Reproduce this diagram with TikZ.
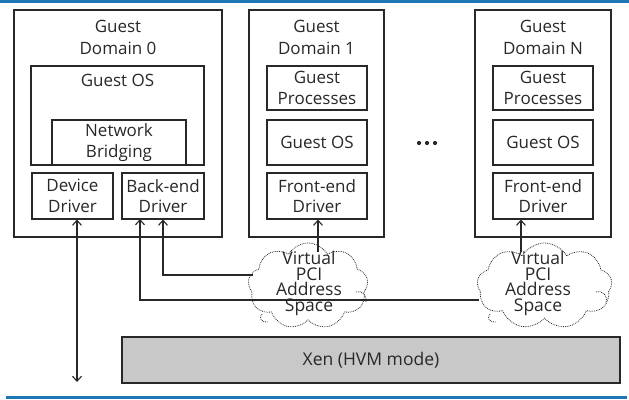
\documentclass[tikz,border=0pt]{standalone}
\usepackage{fontspec}
\setmainfont{Open Sans}
\usetikzlibrary{shapes.symbols,arrows.meta,calc}
\definecolor{bluebar}{RGB}{30,118,182}
\definecolor{linegray}{RGB}{40,40,40}
\definecolor{xengray}{RGB}{200,200,200}
\begin{document}
\begin{tikzpicture}[x=1pt,y=-1pt,
 box/.style={draw=linegray,line width=1.1pt,inner sep=0pt,align=center,text=linegray,font=\fontsize{17}{20.5}\selectfont},
 lbl/.style={inner sep=0pt,align=center,text=linegray,font=\fontsize{17}{21.5}\selectfont},
 cloudlbl/.style={inner sep=0pt,align=center,text=linegray,font=\fontsize{17.5}{15.7}\selectfont},
 cloudbox/.style={cloud,cloud puffs=9,cloud puff arc=120,cloud ignores aspect,draw=linegray,densely dotted,line width=0.8pt,inner sep=0pt},
 arr/.style={draw=linegray,line width=1.1pt,-{Straight Barb[length=5pt,width=9pt]}},
 dbl/.style={draw=linegray,line width=1.1pt,{Straight Barb[length=5pt,width=9pt]}-{Straight Barb[length=5pt,width=9pt]}},
 curl/.style={draw=linegray,densely dotted,line width=0.8pt},
]
\useasboundingbox (0,0) rectangle (629,399);
% blue bars
\fill[bluebar] (0,0) rectangle (629,3);
\fill[bluebar] (6,395.5) rectangle (627,399);

% Domain 0
\node[box,minimum width=208pt,minimum height=227pt] (d0) at (118,123.5) {};
\node[lbl] (d0t) at (118,37.5) {Guest\\Domain 0};
\node[box,minimum width=173pt,minimum height=99pt] (os0) at (117.5,115.5) {};
\node[lbl] (os0t) at (117.5,80) {Guest OS};
\node[box,minimum width=134pt,minimum height=45pt] (nb) at (119,142.5) {Network\\Bridging};
\node[box,minimum width=81pt,minimum height=46pt] (dd) at (72.5,196) {Device\\Driver};
\node[box,minimum width=82pt,minimum height=46pt] (be) at (163,196) {Back-end\\Driver};

% Domain 1
\node[box,minimum width=135pt,minimum height=227pt] (d1) at (316.5,123.5) {};
\node[lbl] (d1t) at (316.5,37.5) {Guest\\Domain 1};
\node[box,minimum width=100pt,minimum height=44pt] (gp1) at (317,88) {Guest\\Processes};
\node[box,minimum width=100pt,minimum height=45pt] (go1) at (317,142.5) {Guest OS};
\node[box,minimum width=100pt,minimum height=46pt] (fe1) at (317,196) {Front-end\\Driver};

% dots
\fill[linegray] (419,143) circle (2.1) (427,143) circle (2.1) (435,143) circle (2.1);

% Domain N
\node[box,minimum width=136pt,minimum height=227pt] (dN) at (543,123.5) {};
\node[lbl] (dNt) at (543,37.5) {Guest\\Domain N};
\node[box,minimum width=100pt,minimum height=44pt] (gpN) at (543,88) {Guest\\Processes};
\node[box,minimum width=100pt,minimum height=45pt] (goN) at (543,142.5) {Guest OS};
\node[box,minimum width=100pt,minimum height=46pt] (feN) at (543,196) {Front-end\\Driver};

% Xen
\node[box,fill=xengray,minimum width=498pt,minimum height=46pt,font=\fontsize{17.5}{20}\selectfont] (xen) at (371,360) {Xen (HVM mode)};

% clouds
\node[cloudbox,minimum width=120pt,minimum height=86pt] (c1) at (308,286) {};
\node[cloudbox,minimum width=135pt,minimum height=86pt] (cN) at (544.5,286) {};
\draw[curl] (356,292) .. controls (362,290) and (367,295) .. (366,302);
\draw[curl] (262,314) .. controls (258,318) and (262,323) .. (268,322);
\draw[curl] (596,292) .. controls (603,290) and (608,296) .. (606,303);
\draw[curl] (490,314) .. controls (486,318) and (490,323) .. (496,322);

% connectors
\coordinate (ddend) at (77,382);
\coordinate (c1top) at (318,252);
\coordinate (cNtop) at (521,252);
\coordinate (l1) at (253,275);
\coordinate (l2) at (479,300);
\coordinate (beA) at (140,219);
\draw[dbl] (dd.south -| ddend) -- (ddend);
\draw[arr] (l1) -| (be.south);
\draw[arr] (l2) -| (beA);
\draw[arr] (c1top) -- (fe1.south -| c1top);
\draw[arr] (cNtop) -- (feN.south -| cNtop);

% cloud texts
\node[cloudlbl] (c1t) at (309,283.5) {Virtual\\PCI\\Address\\Space};
\node[cloudlbl] (cNt) at (538,283.5) {Virtual\\PCI\\Address\\Space};
\end{tikzpicture}
\end{document}
